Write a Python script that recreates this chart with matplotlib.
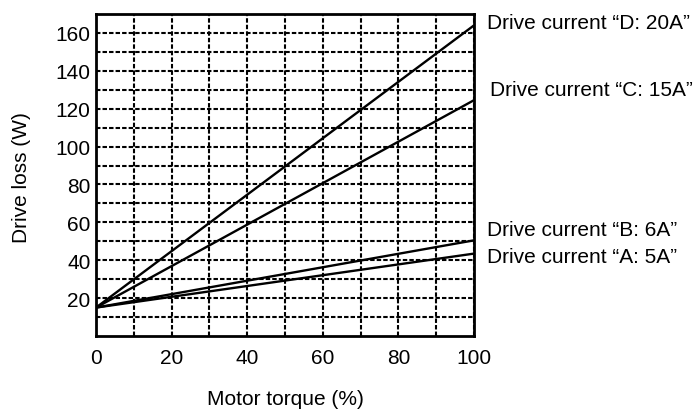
import matplotlib
matplotlib.use("Agg")
import matplotlib.pyplot as plt

# --- data ---
torque = [0, 100]
loss_a = [15, 43.5]
loss_b = [15, 50.5]
loss_c = [15, 124.5]
loss_d = [15, 164]

series_labels = [
    "Drive current \u201cD: 20A\u201d",
    "Drive current \u201cC: 15A\u201d",
    "Drive current \u201cB: 6A\u201d",
    "Drive current \u201cA: 5A\u201d",
]
# where each label sits (data coords, right of the plot)
label_x = [103.4, 104.2, 103.4, 103.4]
label_y = [165.5, 130, 56, 42]

x_ticks = [0, 20, 40, 60, 80, 100]
y_ticks = [20, 40, 60, 80, 100, 120, 140, 160]

plt.rcParams["font.family"] = ["Liberation Sans", "DejaVu Sans"]
plt.rcParams["font.size"] = 15
plt.rcParams["lines.scale_dashes"] = False

fig = plt.figure(figsize=(6.95, 4.10), dpi=100)
ax = fig.add_axes([96 / 695, 73 / 410, 378 / 695, 322 / 410])

for vals in (loss_a, loss_b, loss_c, loss_d):
    ax.plot(torque, vals, color="black", linewidth=1.7, solid_capstyle="butt", zorder=3)

ax.set_xlim(0, 100)
ax.set_ylim(0, 170)
ax.set_xticks(x_ticks)
ax.set_yticks(y_ticks)
ax.set_xticks(range(10, 100, 10), minor=True)
ax.set_yticks(range(10, 170, 10), minor=True)
ax.grid(which="both", color="black", linestyle=(0, (3.2, 1.5)), linewidth=1.5)
ax.tick_params(which="both", length=0)
ax.tick_params(axis="x", pad=9)
ax.tick_params(axis="y", pad=4)
for s in ax.spines.values():
    s.set_linewidth(2.0)
    s.set_zorder(4)

for txt, lx, ly in zip(series_labels, label_x, label_y):
    ax.text(lx, ly, txt, ha="left", va="center", clip_on=False)

fig.text(22 / 695, 1 - 178 / 410, "Drive loss (W)", rotation=90, ha="center", va="center")
fig.text(285 / 695, 1 - 400 / 410, "Motor torque (%)", ha="center", va="center")

fig.savefig("out.png", dpi=100)
